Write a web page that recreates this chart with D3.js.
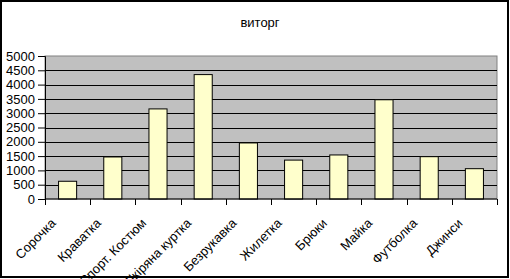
<!DOCTYPE html>
<html>
<head>
<meta charset="utf-8">
<script src="https://cdn.jsdelivr.net/npm/d3@7"></script>
<style>
  body { margin: 0; background: #fff; }
  text { font-family: "Liberation Sans", Arial, sans-serif; }
</style>
</head>
<body>
<div id="chart"></div>
<script>
  // data
  var categories = ["Сорочка", "Краватка", "Спорт. Костюм", "Шкіряна куртка", "Безрукавка",
                    "Жилетка", "Брюки", "Майка", "Футболка", "Джинси"];
  var sales = [620, 1470, 3150, 4350, 1960, 1360, 1540, 3470, 1480, 1060];
  var yTicks = [0, 500, 1000, 1500, 2000, 2500, 3000, 3500, 4000, 4500, 5000];
  var title = "виторг";

  var W = 510, H = 279;
  var margin = { top: 56, right: 13, bottom: 80, left: 45 },
      width = W - margin.left - margin.right,
      height = H - margin.top - margin.bottom;

  var svg = d3.select("#chart")
      .append("svg")
      .attr("width", W)
      .attr("height", H);

  // outer frame
  svg.append("rect")
      .attr("x", 1).attr("y", 1)
      .attr("width", W - 3).attr("height", H - 3)
      .attr("fill", "#fff")
      .attr("stroke", "#000")
      .attr("stroke-width", 2);

  // title
  svg.append("text")
      .attr("x", 260)
      .attr("y", 27)
      .attr("text-anchor", "middle")
      .style("font-size", "13px")
      .text(title);

  var g = svg.append("g")
      .attr("transform", "translate(" + margin.left + "," + margin.top + ")");

  var x = d3.scaleBand()
      .domain(categories)
      .range([0, width])
      .paddingInner(0.6)
      .paddingOuter(0.3);

  var y = d3.scaleLinear()
      .domain([0, 5000])
      .range([height, 0]);

  // plot area
  g.append("rect")
      .attr("width", width)
      .attr("height", height)
      .attr("fill", "#c0c0c0")
      .attr("stroke", "#808080");

  // gridlines
  g.append("g")
      .selectAll("line")
      .data(yTicks.filter(function (d) { return d > 0 && d < 5000; }))
      .enter()
      .append("line")
      .attr("x1", 0)
      .attr("x2", width)
      .attr("y1", function (d) { return Math.round(y(d)) + 0.5; })
      .attr("y2", function (d) { return Math.round(y(d)) + 0.5; })
      .attr("stroke", "#000");

  // bars
  g.append("g")
      .selectAll("rect")
      .data(sales)
      .enter()
      .append("rect")
      .attr("x", function (d, i) { return x(categories[i]); })
      .attr("y", function (d) { return y(d); })
      .attr("width", x.bandwidth())
      .attr("height", function (d) { return height - y(d); })
      .attr("fill", "#ffffcc")
      .attr("stroke", "#000")
      .attr("stroke-width", 1);

  // Y axis
  var yAxis = g.append("g")
      .call(d3.axisLeft(y).tickValues(yTicks).tickSize(7).tickPadding(3).tickFormat(d3.format("d")));
  yAxis.selectAll("text").style("font-size", "13px").attr("fill", "#000");
  yAxis.select(".domain").attr("stroke", "#000");

  // X axis: ticks at category boundaries
  var step = width / categories.length;
  var xAxis = g.append("g")
      .attr("transform", "translate(0," + height + ")");
  xAxis.append("line")
      .attr("x1", 0).attr("x2", width)
      .attr("stroke", "#000");
  xAxis.selectAll("line.tick")
      .data(d3.range(categories.length + 1))
      .enter()
      .append("line")
      .attr("class", "tick")
      .attr("x1", function (d) { return Math.round(d * step) + 0.5; })
      .attr("x2", function (d) { return Math.round(d * step) + 0.5; })
      .attr("y1", 0)
      .attr("y2", 6)
      .attr("stroke", "#000");

  // rotated category labels (long ones run past the bottom edge, as in the original)
  xAxis.selectAll("text")
      .data(categories)
      .enter()
      .append("text")
      .attr("text-anchor", "end")
      .attr("transform", function (d) {
          return "translate(" + (x(d) + x.bandwidth() / 2 - 11) + ",25) rotate(-45)";
      })
      .style("font-size", "13px")
      .text(function (d) { return d; });
</script>
</body>
</html>
